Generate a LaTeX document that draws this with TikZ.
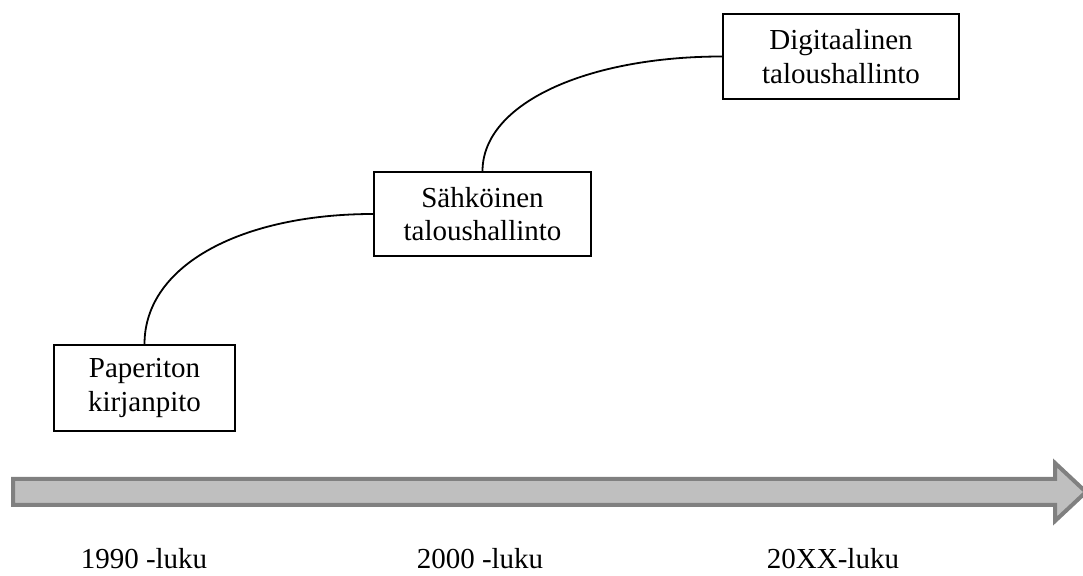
\documentclass[tikz,border=0pt]{standalone}
\usepackage{fontspec}
\setmainfont{Liberation Serif}
\begin{document}
\begin{tikzpicture}[x=1pt,y=1pt,
  stage/.style={draw=black, line width=1.6pt, fill=white, align=center,
    inner sep=0pt, font=\fontsize{29}{33.5}\selectfont},
  period/.style={anchor=base, inner sep=0pt, font=\fontsize{29}{33.5}\selectfont},
  link/.style={line width=1.8pt, black},
  timeline/.style={draw=black!50, fill=black!25, line width=4pt, line join=miter}]
\useasboundingbox (0,0) rectangle (1083,575);

% time axis arrow
\begin{scope}
\clip (0,0) rectangle (1083,575);
\draw[timeline] (13,70) -- (1055,70) -- (1055,54) -- (1086,83) -- (1055,112)
  -- (1055,96) -- (13,96) -- cycle;
\end{scope}

% stages
\node[stage, minimum width=181pt, minimum height=86pt] (paper) at (144.5,187) {Paperiton\\kirjanpito};
\node[stage, minimum width=217pt, minimum height=84pt] (sahko) at (482.5,361) {Sähköinen\\taloushallinto};
\node[stage, minimum width=236pt, minimum height=85pt] (digi) at (841,518.5) {Digitaalinen\\taloushallinto};

% connecting arcs
\draw[link] (paper.north) .. controls +(0,80) and +(-130,0) .. (sahko.west);
\draw[link] (sahko.north) .. controls +(0,68) and +(-135,0) .. (digi.west);

% period labels
\node[period] (p1990) at (144,7) {1990 -luku};
\node[period] (p2000) at (480,7) {2000 -luku};
\node[period] (p20xx) at (833,7) {20XX-luku};
\end{tikzpicture}
\end{document}
